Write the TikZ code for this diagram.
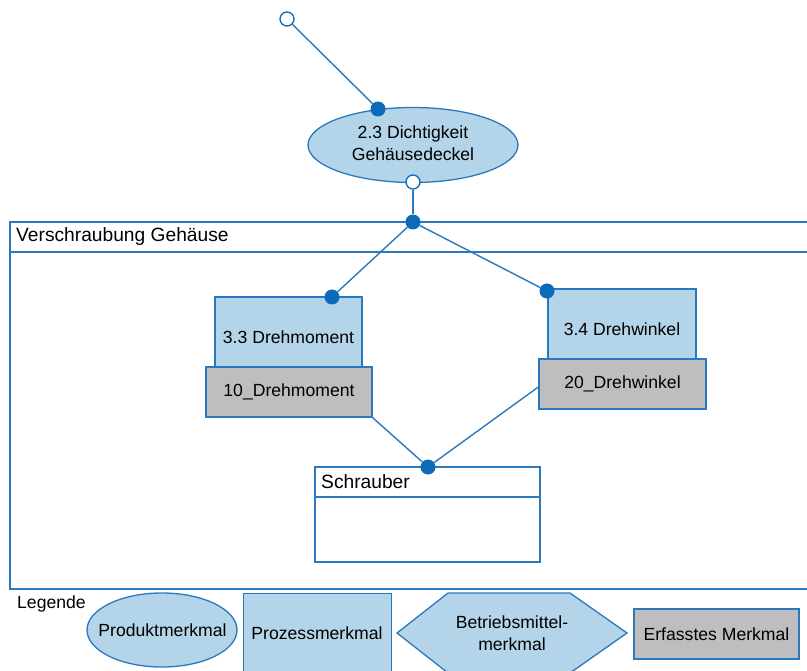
\documentclass[tikz,border=0pt]{standalone}
\usepackage{fontspec}
\setmainfont{Liberation Sans}
\usetikzlibrary{shapes.geometric}

\definecolor{lblue}{HTML}{B4D4EA}
\definecolor{bline}{HTML}{2A78BE}
\definecolor{dotc}{HTML}{0B6BB8}
\definecolor{gfill}{HTML}{BEBEBE}

\newcommand\lblfont{\fontsize{17.6}{22}\selectfont}
\newcommand\headfont{\fontsize{19.2}{23}\selectfont}

\tikzset{
  lbl/.style={font=\lblfont, text=black, inner sep=0pt, align=center},
  headlbl/.style={font=\headfont, text=black, inner sep=0pt, anchor=west},
  prodell/.style={ellipse, draw=bline, fill=lblue, line width=1.3pt, inner sep=0pt},
  procbox/.style={rectangle, draw=bline, fill=lblue, line width=1.3pt, inner sep=0pt, font=\lblfont},
  capbox/.style={rectangle, draw=bline, fill=gfill, line width=1.3pt, inner sep=0pt, font=\lblfont},
  resbox/.style={rectangle, draw=bline, fill=white, line width=1.1pt, inner sep=0pt},
  frameline/.style={draw=bline, line width=1.1pt},
  conn/.style={draw=bline, line width=1.4pt},
  fdot/.style={circle, fill=dotc, inner sep=0pt, minimum size=15pt},
  odot/.style={circle, draw=dotc, fill=white, line width=1.3pt, inner sep=0pt, minimum size=14pt},
}

\begin{document}
\begin{tikzpicture}[x=1pt, y=-1pt]
\useasboundingbox (0,0) rectangle (807,671);

% process frame with its header
\draw[frameline] (10,222) rectangle (815,589);
\draw[frameline] (10,252) -- (815,252);
\node[headlbl] (ftitle) at (16,237) {Verschraubung Gehäuse};

% product characteristic
\node[prodell, minimum width=210pt, minimum height=75pt] (ell) at (413,145) {};
\node[lbl] (ellt) at (413,143) {2.3 Dichtigkeit\\Gehäusedeckel};

% process characteristics with recorded characteristics
\node[procbox, minimum width=147pt, minimum height=80pt] (p33) at (288.5,337) {3.3 Drehmoment};
\node[capbox, minimum width=166pt, minimum height=50pt] (c10) at (289,392) {10\_Drehmoment};
\node[procbox, minimum width=148pt, minimum height=80pt] (p34) at (622,329) {3.4 Drehwinkel};
\node[capbox, minimum width=167pt, minimum height=50pt] (c20) at (622.5,384) {20\_Drehwinkel};

% resource
\node[resbox, minimum width=225pt, minimum height=95pt] (schr) at (427.5,514.5) {};
\draw[frameline] (315,497) -- (540,497);
\node[headlbl] (schrt) at (321,482) {Schrauber};

% connection points
\node[odot] (top) at (287,19) {};
\node[fdot] (e1) at (378,109) {};
\node[odot] (e2) at (413,182) {};
\node[fdot] (hub) at (413,222) {};
\node[fdot] (d33) at (332,297) {};
\node[fdot] (d34) at (547,291) {};
\node[fdot] (ds) at (428,467) {};

% connectors
\draw[conn] (top) -- (e1);
\draw[conn] (e2) -- (hub);
\draw[conn] (hub) -- (d33);
\draw[conn] (hub) -- (d34);
\draw[conn] (c10.south east) -- (ds);
\draw[conn] ([yshift=-3pt]c20.west) -- (ds);

% legend
\node[lbl, anchor=west] (leg) at (17,604) {Legende};
\node[prodell, minimum width=150pt, minimum height=74pt] (lprod) at (162,630) {};
\node[lbl] (lprodt) at (162.5,630) {Produktmerkmal};
\node[procbox, minimum width=148pt, minimum height=95pt, anchor=north west] (lproc) at (243,593) {};
\node[lbl] (lproct) at (317,633) {Prozessmerkmal};
\draw[draw=bline, fill=lblue, line width=1.3pt]
  (397,633) -- (448,593) -- (570,593) -- (627,633) -- (570,673) -- (448,673) -- cycle;
\node[lbl] (lres) at (512,633) {Betriebsmittel-\\merkmal};
\node[capbox, minimum width=165pt, minimum height=50pt] (lerf) at (716.5,634) {Erfasstes Merkmal};
\end{tikzpicture}
\end{document}
